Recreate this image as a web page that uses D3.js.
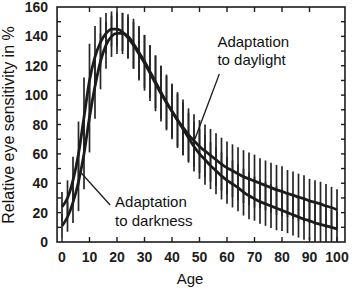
<!DOCTYPE html>
<html><head><meta charset="utf-8">
<script src="https://cdn.jsdelivr.net/npm/d3@7"></script>
<style>body{margin:0;background:#fff}svg{display:block}</style>
</head><body>
<script>
const ages = [0,2,4,6,8,10,12,14,16,18,20,22,24,26,28,30,32,34,36,38,40,42,44,46,48,50,52,54,56,58,60,62,64,66,68,70,72,74,76,78,80,82,84,86,88,90,92,94,96,98,100];
const daylight = [24,30,42,60,85,110,126,136,142,145,145,143,139,134,128,122,115,108,101,95,89,83,78,73,69,65,62,59,56,53,50.5,48.5,46.5,44.5,43,41.5,40,38.5,37,35.5,34.5,33,32,30.5,29.5,28,27,26,24.5,23.5,22];
const darkness = [11,17,27,41,60,85,106,123,134,140,142,142,140,135,129,123,116,109,102,95,89,83,77,71,65,60,56,52,48.5,45,42,39.5,37,34,31.5,29.5,27.5,26,24.5,23,21.5,20,18.5,17,15.5,14.5,13,12,11,10,9];
const daylightErr = [10,12,16,22,27,25,21,17,14,12,12,13,14,16,18,19,19,19,19,19,19,19,19,18,18,18,18,18,18,18,18,18,18,18,18,18,17,17,17,17,17,16,16,16,16,15,15,15,15,14,14];
const darknessErr = [8,10,14,20,24,24,22,19,16,14,14,14,15,17,18,18,18,18,18,18,18,18,18,17,17,17,17,16,16,16,16,16,16,16,16,15,15,15,15,15,14,14,14,14,14,13,13,13,13,12,12];
const xTicks = [0,10,20,30,40,50,60,70,80,90,100];
const yTicks = [0,20,40,60,80,100,120,140,160];
const yMinor = [10,30,50,70,90,110,130,150];

const W = 360, H = 290;
const svg = d3.select("body").append("svg").attr("width", W).attr("height", H);
const x = d3.scaleLinear().domain([0,100]).range([62,337]);
const y = d3.scaleLinear().domain([0,160]).range([242,7]);
const x0 = x(-1.8), x1 = x(102.9);
const ink = "#1c1c1c";
const font = "'Liberation Sans', Arial, sans-serif";

// error bars
const bars = svg.append("g").attr("stroke", "#262626").attr("stroke-width", 1.7);
[[daylight, daylightErr],[darkness, darknessErr]].forEach(([vals, errs]) => {
  bars.selectAll(null).data(ages).enter().append("line")
    .attr("x1", (a) => x(a)).attr("x2", (a) => x(a))
    .attr("y1", (a,i) => y(Math.min(vals[i]+errs[i], 160)))
    .attr("y2", (a,i) => y(Math.max(vals[i]-errs[i], 0)));
});

// curves
const line = d3.line().x((d) => x(d[0])).y((d) => y(d[1])).curve(d3.curveMonotoneX);
[daylight, darkness].forEach((vals) => {
  svg.append("path").datum(ages.map((a,i) => [a, vals[i]]))
    .attr("d", line).attr("fill", "none").attr("stroke", ink).attr("stroke-width", 2.8);
});

// frame
svg.append("rect").attr("x", x0).attr("y", y(160)).attr("width", x1-x0).attr("height", y(0)-y(160))
  .attr("fill", "none").attr("stroke", ink).attr("stroke-width", 1.6);

// ticks
const tk = svg.append("g").attr("stroke", ink).attr("stroke-width", 1.4);
xTicks.forEach((t) => {
  tk.append("line").attr("x1", x(t)).attr("x2", x(t)).attr("y1", y(0)).attr("y2", y(0)-5);
  if (t > 0 && t < 100) tk.append("line").attr("x1", x(t)).attr("x2", x(t)).attr("y1", y(160)).attr("y2", y(160)+5);
});
yTicks.concat(yMinor).forEach((t) => {
  if (t === 0 || t === 160) return;
  tk.append("line").attr("x1", x0).attr("x2", x0+4).attr("y1", y(t)).attr("y2", y(t));
  tk.append("line").attr("x1", x1).attr("x2", x1-4).attr("y1", y(t)).attr("y2", y(t));
});

// tick labels
svg.append("g").selectAll("text").data(yTicks).enter().append("text")
  .attr("x", 48).attr("y", (d) => y(d)).attr("dy", "0.36em").attr("text-anchor", "end")
  .attr("font-family", font).attr("font-size", 14).attr("font-weight", "bold").attr("fill", ink)
  .text((d) => d);
svg.append("g").selectAll("text").data(xTicks).enter().append("text")
  .attr("x", (d) => x(d)).attr("y", 262).attr("text-anchor", "middle")
  .attr("font-family", font).attr("font-size", 14).attr("font-weight", "bold").attr("fill", ink)
  .text((d) => d);

// axis titles
svg.append("text").attr("x", 190).attr("y", 284).attr("text-anchor", "middle")
  .attr("font-family", font).attr("font-size", 15).attr("fill", "#111").text("Age");
svg.append("text").attr("transform", `translate(14,125) rotate(-90)`)
  .attr("text-anchor", "middle").attr("font-family", font).attr("font-size", 16).attr("fill", "#111")
  .text("Relative eye sensitivity in %");

// annotations
const ann = svg.append("g").attr("font-family", font).attr("font-size", 15).attr("fill", "#111");
ann.append("text").attr("x", x(56.5)).attr("y", 47).text("Adaptation");
ann.append("text").attr("x", x(56.5)).attr("y", 65).text("to daylight");
svg.append("line").attr("x1", x(57.2)).attr("y1", 74).attr("x2", x(48.3)).attr("y2", y(70))
  .attr("stroke", ink).attr("stroke-width", 1.3);
ann.append("text").attr("x", x(19.3)).attr("y", 207).text("Adaptation");
ann.append("text").attr("x", x(19.3)).attr("y", 226).text("to darkness");
svg.append("line").attr("x1", x(17.5)).attr("y1", 205).attr("x2", x(7)).attr("y2", y(47))
  .attr("stroke", ink).attr("stroke-width", 1.3);
</script>
</body></html>
